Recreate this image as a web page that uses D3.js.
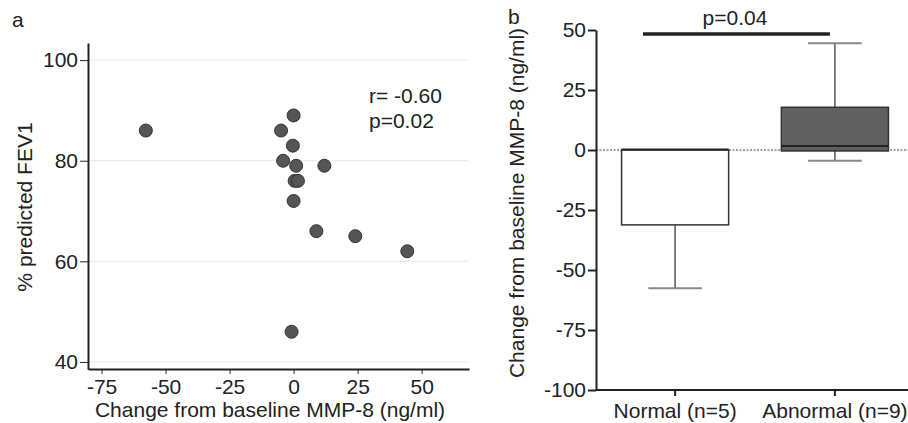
<!DOCTYPE html>
<html>
<head>
<meta charset="utf-8">
<script src="https://cdn.jsdelivr.net/npm/d3@7"></script>
<style>
  body { margin: 0; background: #fff; }
  svg text { font-family: 'Liberation Sans', Arial, sans-serif; fill: #222; }
  .axis path, .axis line { stroke: #222; }
  .axis text { font-size: 21px; }
</style>
</head>
<body>
<div id="chart"></div>
<script>
// panel a: scatter
const changeX = [-57.7, 0, -4.9, -0.3, -4.1, 1, 12, 0.4, 1.7, 0, 8.9, 24.1, 44.4, -0.8]
const fev1Y = [86, 89, 86, 83, 80, 79, 79, 76, 76, 72, 66, 65, 62, 46]
const xTicksA = [-75, -50, -25, 0, 25, 50]
const yTicksA = [40, 60, 80, 100]

// panel b: box plot
const groups = ['Normal (n=5)', 'Abnormal (n=9)']
const q1 = [-31.2, -0.4]
const median = [0.2, 1.7]
const q3 = [0, 17.8]
const whiskLo = [-57.6, -4.5]
const whiskHi = [0, 44.5]
const boxFill = ['#ffffff', '#606060']
const yTicksB = [50, 25, 0, -25, -50, -75, -100]
const sigY = 48.3

const width = 908
const height = 423
const fs = '21px'
const hyphen = (d) => String(d) // plain hyphen minus, not U+2212

const svg = d3
  .select('#chart')
  .append('svg')
  .attr('width', width)
  .attr('height', height)

// ---------- panel a ----------
const xA = d3.scaleLinear().domain([-80.3, 68.5]).range([88, 469])
const yA = d3.scaleLinear().domain([38.6, 103.4]).range([369, 43])

svg.append('text').attr('x', 12).attr('y', 27).style('font-size', fs).text('a')

svg
  .append('g')
  .selectAll('line')
  .data(yTicksA)
  .enter()
  .append('line')
  .attr('x1', 88)
  .attr('x2', 469)
  .attr('y1', (d) => yA(d))
  .attr('y2', (d) => yA(d))
  .attr('stroke', '#ececec')
  .attr('stroke-width', 1.2)

const axAx = svg
  .append('g')
  .attr('class', 'axis')
  .attr('transform', 'translate(0,369)')
  .call(d3.axisBottom(xA).tickValues(xTicksA).tickFormat(hyphen).tickSize(5).tickSizeOuter(0).tickPadding(5))
axAx.select('.domain').attr('stroke-width', 2)

const axAy = svg
  .append('g')
  .attr('class', 'axis')
  .attr('transform', 'translate(88,0)')
  .call(d3.axisLeft(yA).tickValues(yTicksA).tickFormat(hyphen).tickSize(8).tickSizeOuter(0).tickPadding(2))
axAy.select('.domain').attr('stroke-width', 2)

svg
  .append('g')
  .selectAll('circle')
  .data(changeX)
  .enter()
  .append('circle')
  .attr('cx', (d) => xA(d))
  .attr('cy', (d, i) => yA(fev1Y[i]))
  .attr('r', 6.5)
  .attr('fill', '#555')
  .attr('stroke', '#333')
  .attr('stroke-width', 1)

svg.append('text').attr('x', 369).attr('y', 103).style('font-size', fs).text('r= -0.60')
svg.append('text').attr('x', 369).attr('y', 128).style('font-size', fs).text('p=0.02')

svg
  .append('text')
  .attr('x', 270)
  .attr('y', 417)
  .attr('text-anchor', 'middle')
  .style('font-size', fs)
  .text('Change from baseline MMP-8 (ng/ml)')

svg
  .append('text')
  .attr('transform', 'translate(32,207) rotate(-90)')
  .attr('text-anchor', 'middle')
  .style('font-size', fs)
  .text('% predicted FEV1')

// ---------- panel b ----------
const xB = d3.scaleBand().domain(groups).range([596, 914]).paddingInner(0.33).paddingOuter(0.16)
const yB = d3.scaleLinear().domain([-100, 50]).range([390, 30])
const bw = xB.bandwidth()

svg.append('text').attr('x', 508).attr('y', 24).style('font-size', fs).text('b')

// zero reference line
svg
  .append('line')
  .attr('x1', 596)
  .attr('x2', width)
  .attr('y1', yB(0))
  .attr('y2', yB(0))
  .attr('stroke', '#444')
  .attr('stroke-width', 1)
  .attr('stroke-dasharray', '2,1.5')

const boxes = svg
  .append('g')
  .selectAll('g')
  .data(groups)
  .enter()
  .append('g')

// whiskers
boxes
  .append('line')
  .attr('x1', (d) => xB(d) + bw / 2)
  .attr('x2', (d) => xB(d) + bw / 2)
  .attr('y1', (d, i) => yB(whiskLo[i]))
  .attr('y2', (d, i) => yB(whiskHi[i]))
  .attr('stroke', '#555')
  .attr('stroke-width', 1.5)

boxes
  .append('line')
  .attr('x1', (d) => xB(d) + bw / 4)
  .attr('x2', (d) => xB(d) + (bw * 3) / 4)
  .attr('y1', (d, i) => yB(whiskLo[i]))
  .attr('y2', (d, i) => yB(whiskLo[i]))
  .attr('stroke', '#888')
  .attr('stroke-width', 2)

boxes
  .filter((d, i) => whiskHi[i] > q3[i])
  .append('line')
  .attr('x1', (d) => xB(d) + bw / 4)
  .attr('x2', (d) => xB(d) + (bw * 3) / 4)
  .attr('y1', (d) => yB(whiskHi[groups.indexOf(d)]))
  .attr('y2', (d) => yB(whiskHi[groups.indexOf(d)]))
  .attr('stroke', '#888')
  .attr('stroke-width', 2)

boxes
  .append('rect')
  .attr('x', (d) => xB(d))
  .attr('width', bw)
  .attr('y', (d, i) => yB(q3[i]))
  .attr('height', (d, i) => yB(q1[i]) - yB(q3[i]))
  .attr('fill', (d, i) => boxFill[i])
  .attr('stroke', '#333')
  .attr('stroke-width', 1.5)

boxes
  .append('line')
  .attr('x1', (d) => xB(d))
  .attr('x2', (d) => xB(d) + bw)
  .attr('y1', (d, i) => yB(median[i]))
  .attr('y2', (d, i) => yB(median[i]))
  .attr('stroke', '#222')
  .attr('stroke-width', 2)

const axBx = svg
  .append('g')
  .attr('class', 'axis')
  .attr('transform', 'translate(0,390)')
  .call(d3.axisBottom(xB).tickSize(6).tickSizeOuter(0).tickPadding(7))
axBx.select('.domain').attr('d', 'M596,0H' + width).attr('stroke-width', 2)
axBx.selectAll('.tick line').attr('stroke-width', 2)

const axBy = svg
  .append('g')
  .attr('class', 'axis')
  .attr('transform', 'translate(596,0)')
  .call(d3.axisLeft(yB).tickValues(yTicksB).tickFormat(hyphen).tickSize(8).tickSizeOuter(0).tickPadding(2))
axBy.select('.domain').attr('stroke-width', 2)
axBy.selectAll('.tick line').attr('stroke-width', 2)

// significance bar
svg
  .append('line')
  .attr('x1', xB(groups[0]) + bw / 5)
  .attr('x2', xB(groups[1]) + bw / 2 - 5)
  .attr('y1', yB(sigY))
  .attr('y2', yB(sigY))
  .attr('stroke', '#222')
  .attr('stroke-width', 3.5)

svg
  .append('text')
  .attr('x', 735)
  .attr('y', 25)
  .attr('text-anchor', 'middle')
  .style('font-size', fs)
  .text('p=0.04')

svg
  .append('text')
  .attr('transform', 'translate(524,203) rotate(-90)')
  .attr('text-anchor', 'middle')
  .style('font-size', fs)
  .text('Change from baseline MMP-8 (ng/ml)')
</script>
</body>
</html>
